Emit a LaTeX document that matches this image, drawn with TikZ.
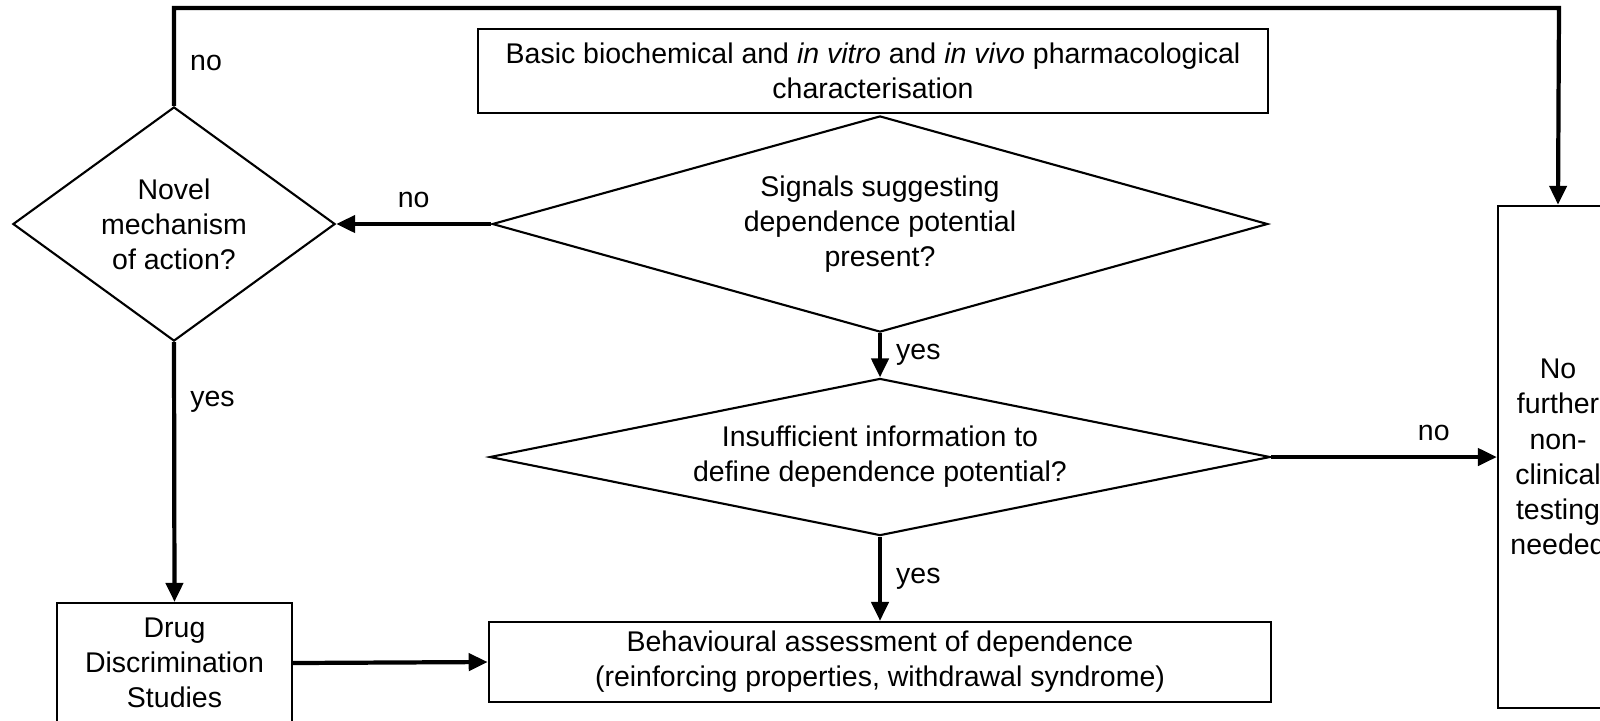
\documentclass[tikz,border=0pt]{standalone}
\usepackage{fontspec}
\setmainfont{Liberation Sans}
\usetikzlibrary{shapes.geometric,arrows.meta}

\begin{document}
\begin{tikzpicture}[x=0.01cm, y=-0.01cm,
    every node/.style={font=\fontsize{8.1}{10}\selectfont, align=center},
    stepbox/.style={draw, line width=0.6pt, rectangle, inner sep=0pt},
    decision/.style={draw, line width=0.6pt, diamond, inner sep=0pt},
    flow/.style={line width=1.2pt, -{Triangle[length=0.19cm, width=0.17cm]}},
    lbl/.style={inner sep=4pt}]
    \path[use as bounding box] (0,0) rectangle (1600,720);
    \clip (0,0) rectangle (1600,720);

    % Characterisation
    \node[stepbox, minimum width=7.9cm, minimum height=0.84cm] (basic) at (873,71)
        {Basic biochemical and \textit{in vitro} and \textit{in vivo} pharmacological\\characterisation};

    % Signals
    \node[decision, aspect=3.588, minimum width=7.75cm, minimum height=2.16cm] (signals) at (880,224)
        {Signals suggesting\\dependence potential\\present?};

    % Novel mechanism
    \node[decision, aspect=1.376, minimum width=3.22cm, minimum height=2.34cm] (novel) at (174,224)
        {Novel\\mechanism\\of action?};

    % Insufficient information
    \node[decision, aspect=4.968, minimum width=7.8cm, minimum height=1.57cm] (insuff) at (880,457)
        {Insufficient information to\\define dependence potential?};

    % Behavioural assessment
    \node[stepbox, minimum width=7.82cm, minimum height=0.8cm] (behav) at (880,662)
        {Behavioural assessment of dependence\\(reinforcing properties, withdrawal syndrome)};

    % Drug discrimination
    \node[stepbox, minimum width=2.35cm, minimum height=1.2cm] (drug) at (174.5,663)
        {Drug\\Discrimination\\Studies};

    % No further testing
    \node[stepbox, minimum width=1.2cm, minimum height=5.02cm] (nofurther) at (1558,457)
        {No\\further\\non-\\clinical\\testing\\needed};

    \coordinate (topright) at (1559,8);

    % Arrows
    \draw[flow] (signals.west) -- node[lbl, above] {no} (novel.east);
    \draw[flow] (signals.south) -- node[lbl, right] {yes} (insuff.north);
    \draw[flow] (insuff.south) -- node[lbl, right] {yes} (behav.north);
    \draw[flow] (insuff.east) -- node[lbl, above, pos=0.72] {no} (nofurther.west);
    \draw[flow] (novel.south) -- node[lbl, right, pos=0.23] {yes} (drug.north);
    \draw[flow] (drug.east) -- (behav.west);
    \draw[flow] (novel.north) |- node[lbl, right, pos=0.22] {no} (topright) -- (nofurther.north);
\end{tikzpicture}
\end{document}
